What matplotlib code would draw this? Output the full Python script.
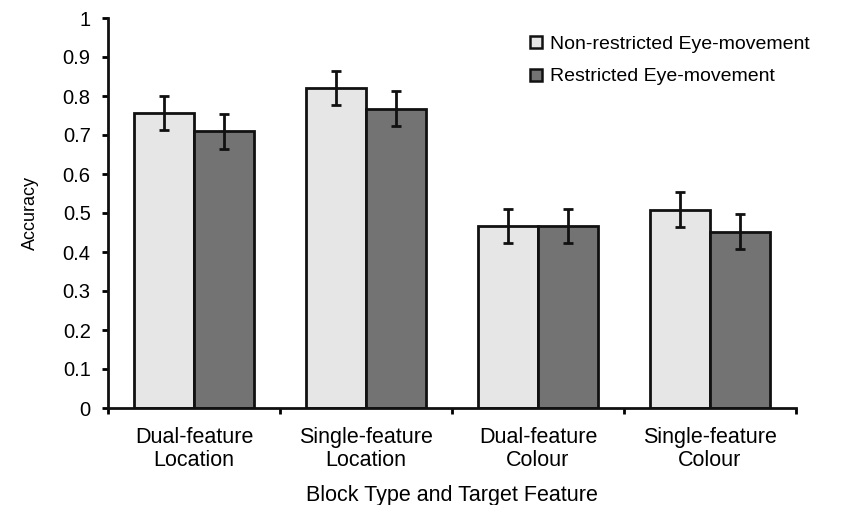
import matplotlib
matplotlib.use("Agg")
import matplotlib.pyplot as plt
import numpy as np
from matplotlib.lines import Line2D

categories = ["Dual-feature\nLocation", "Single-feature\nLocation", "Dual-feature\nColour", "Single-feature\nColour"]
series_names = ["Non-restricted Eye-movement", "Restricted Eye-movement"]
nonrestricted = [0.757, 0.820, 0.467, 0.508]
restricted = [0.709, 0.767, 0.467, 0.452]
err_nonrestricted = [0.043, 0.043, 0.044, 0.045]
err_restricted = [0.045, 0.045, 0.044, 0.045]
ytick_vals = [0, 0.1, 0.2, 0.3, 0.4, 0.5, 0.6, 0.7, 0.8, 0.9, 1.0]
ytick_labels = ["0", "0.1", "0.2", "0.3", "0.4", "0.5", "0.6", "0.7", "0.8", "0.9", "1"]

plt.rcParams['font.family'] = ['Liberation Sans', 'DejaVu Sans']
fig = plt.figure(figsize=(8.46, 5.05), dpi=100)
ax = fig.add_axes([108/846, 1-408/505, (796-108)/846, (408-18)/505])

x = np.arange(len(categories))
w = 0.35
colors = ["#e6e6e6", "#737373"]
ekw = dict(ecolor="#111111", elinewidth=2, capsize=3.5, capthick=2)
ax.bar(x - w/2, nonrestricted, w, yerr=err_nonrestricted, color=colors[0],
       edgecolor="#111111", linewidth=2, error_kw=ekw, zorder=2)
ax.bar(x + w/2, restricted, w, yerr=err_restricted, color=colors[1],
       edgecolor="#111111", linewidth=2, error_kw=ekw, zorder=2)

ax.set_xlim(-0.5, len(categories) - 0.5)
ax.set_ylim(0, 1)
ax.set_yticks(ytick_vals)
ax.set_yticklabels(ytick_labels, fontsize=14.5)
ax.set_xticks(np.arange(len(categories) + 1) - 0.5)
ax.set_xticklabels([])
ax.set_xticks(x, minor=True)
ax.set_xticklabels(categories, minor=True, fontsize=15.5, linespacing=1.1)
ax.tick_params(axis='x', which='minor', length=0, pad=14)
ax.tick_params(axis='x', which='major', length=4.5, width=2, direction='out')
ax.tick_params(axis='y', length=4.5, width=2, direction='out', pad=8)
for s in ["top", "right"]:
    ax.spines[s].set_visible(False)
for s in ["left", "bottom"]:
    ax.spines[s].set_linewidth(2)
    ax.spines[s].set_color("#111111")

ax.set_ylabel("Accuracy", fontsize=13, labelpad=17)
ax.set_xlabel("Block Type and Target Feature", fontsize=15.5, labelpad=10)

handles = [Line2D([], [], marker='s', linestyle='none', markersize=8.5,
                  markerfacecolor=c, markeredgecolor="#111111", markeredgewidth=1.8)
           for c in colors]
ax.legend(handles, series_names, loc='upper right', bbox_to_anchor=(1.045, 1.0),
          frameon=False, fontsize=14, handletextpad=0.2, labelspacing=0.75,
          handlelength=1.0)

fig.savefig("out.png", dpi=100)
